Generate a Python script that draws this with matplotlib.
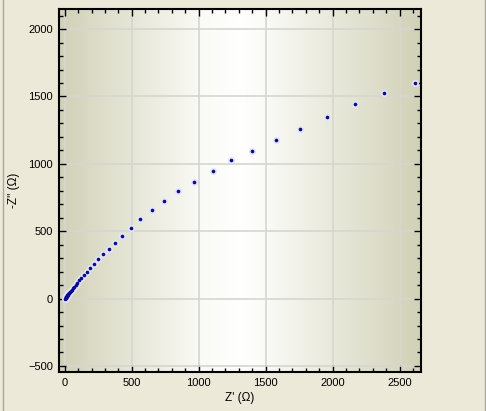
import numpy as np
import matplotlib.pyplot as plt
from matplotlib.colors import LinearSegmentedColormap
from matplotlib.lines import Line2D

plt.rcParams["font.family"] = ["Liberation Sans", "DejaVu Sans"]

# Nyquist data (ohm)
z_real = [5, 6, 7, 8.2, 9.5, 11, 13, 15, 17, 20, 23, 26, 30, 35, 40, 46, 53, 61, 70, 81, 93,
          107, 124, 144, 166, 191, 219, 249, 286, 328, 375, 428, 493, 562, 651, 741,
          846, 966, 1104, 1241, 1398, 1577, 1756, 1960, 2166, 2383, 2612]
z_imag = [-3, 4, 6, 8, 10, 12, 15, 18, 21, 25, 29, 33, 38, 45, 51, 58, 67, 77, 88, 101, 118,
          139, 156, 176, 198, 228, 257, 295, 332, 366, 415, 465, 524, 591, 658, 725,
          799, 866, 947, 1029, 1096, 1177, 1259, 1348, 1447, 1526, 1598]

x_ticks = [0, 500, 1000, 1500, 2000, 2500]
y_ticks = [-500, 0, 500, 1000, 1500, 2000]

fig = plt.figure(figsize=(4.86, 4.11), dpi=100, facecolor="#ece9d8")
ax = fig.add_axes([58.7 / 486, 1 - 372 / 411, (421 - 58.7) / 486, (372 - 9.3) / 411])

xlim = (-45, 2660)
ylim = (-545, 2147)

# olive -> white -> olive horizontal gradient
olive = (0.82, 0.82, 0.72)
cmap = LinearSegmentedColormap.from_list(
    "bg", [(0.0, olive), (0.39, (0.98, 0.98, 0.965)), (0.5, (1, 1, 1)),
           (0.575, (0.98, 0.98, 0.965)), (1.0, olive)])
grad = np.linspace(0, 1, 400)[None, :]
ax.imshow(grad, cmap=cmap, aspect="auto", extent=[xlim[0], xlim[1], ylim[0], ylim[1]],
          zorder=0, interpolation="bilinear")

ax.set_xlim(*xlim)
ax.set_ylim(*ylim)
ax.set_xticks(x_ticks)
ax.set_yticks(y_ticks)
ax.set_xticks(np.arange(0, 2700, 100), minor=True)
ax.set_yticks(np.arange(-500, 2150, 100), minor=True)
ax.grid(True, which="major", color="#d6d6d0", linewidth=1.2, zorder=1)
ax.set_axisbelow(True)

ax.tick_params(which="both", direction="in", top=True, right=True, color="black",
               labelsize=8, pad=4)
ax.tick_params(which="major", length=5, width=1)
ax.tick_params(which="minor", length=3, width=1)
for s in ax.spines.values():
    s.set_linewidth(1.5)
    s.set_color("black")

# pale halo + dark dot markers
ax.plot(z_real, z_imag, "o", ms=5, color="#e4e4fa", mec="none", zorder=3)
ax.plot(z_real, z_imag, "o", ms=2.6, color="#0a0a8c", mec="none", zorder=4)

ax.set_xlabel("Z' (\u03a9)", fontsize=8.5, labelpad=3)
ax.set_ylabel("-Z'' (\u03a9)", fontsize=8.5, labelpad=6)

fig.add_artist(Line2D([2.5 / 486, 2.5 / 486], [0, 1], color="#a8a8a0", lw=1))
fig.add_artist(Line2D([484.5 / 486, 484.5 / 486], [0, 1], color="#a8a8a0", lw=1))

fig.savefig("out.png", dpi=100, facecolor=fig.get_facecolor())
